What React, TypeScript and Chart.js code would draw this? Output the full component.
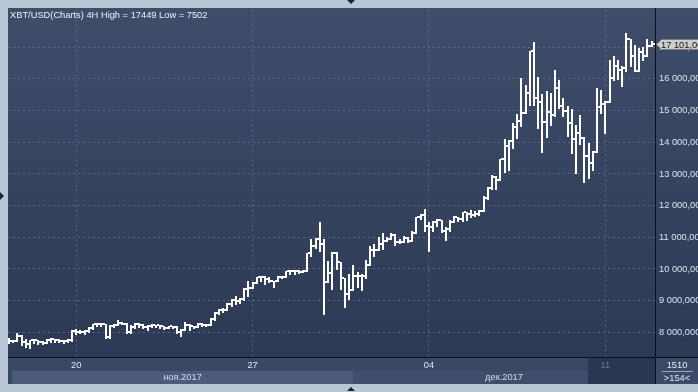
import React, { useEffect, useRef } from "react";
import { Chart, registerables } from "chart.js";

Chart.register(...registerables);

// 4H OHLC bars, XBT/USD, from 17 Nov 2017 08:00 (index 0) to 12 Dec 2017 20:00
const opens = [
  7730, 7730, 7740, 7880, 7700, 7640, 7760, 7750, 7700, 7660,
  7750, 7780, 7770, 7730, 7720, 7770, 8040, 8010, 8010, 8040,
  8150, 8250, 8250, 8250, 7850, 8190, 8220, 8300, 8270, 8000,
  8170, 8250, 8240, 8170, 8190, 8230, 8230, 8190, 8150, 8190,
  8180, 8010, 8080, 8240, 8200, 8180, 8270, 8220, 8240, 8410,
  8610, 8720, 8700, 8900, 9010, 8980, 9060, 9380, 9400, 9560,
  9740, 9740, 9690, 9610, 9610, 9760, 9760, 9930, 9930, 9950,
  9920, 9950, 10490, 10740, 10950, 10790, 9580, 9880, 10510, 10230,
  9720, 9220, 9340, 9790, 9790, 9790, 10140, 10600, 10600, 10790,
  10890, 10950, 11080, 10840, 10860, 10980, 10870, 11130, 11630, 11710,
  11370, 11310, 11470, 11540, 11190, 11260, 11470, 11630, 11580, 11790,
  11750, 11710, 11730, 11840, 12230, 12570, 12900, 12800, 13460, 13870,
  14030, 14470, 14670, 14910, 15540, 16870, 15400, 15265, 14640, 14970,
  14850, 15710, 15160, 15000, 14600, 14090, 14280, 14120, 13570, 13340,
  13700, 15120, 15220, 15280, 16030, 16400, 16290, 16360, 17260, 16730,
  16260, 16840, 16730, 17050,
];
const highs = [
  7830, 7760, 7980, 7900, 7800, 7770, 7780, 7760, 7730, 7780,
  7830, 7800, 7780, 7770, 7800, 8080, 8090, 8060, 8080, 8170,
  8270, 8290, 8290, 8270, 8230, 8270, 8380, 8320, 8290, 8220,
  8280, 8280, 8250, 8220, 8250, 8240, 8240, 8200, 8200, 8210,
  8190, 8120, 8320, 8250, 8210, 8280, 8280, 8250, 8450, 8640,
  8750, 8770, 8920, 9060, 9160, 9090, 9410, 9620, 9580, 9760,
  9770, 9770, 9760, 9630, 9790, 9790, 9950, 9970, 9980, 9960,
  9970, 10500, 10950, 10980, 11470, 10950, 10260, 10530, 10530, 10230,
  9720, 9850, 10140, 9900, 9830, 10290, 10740, 10790, 11000, 11120,
  11000, 11120, 11100, 10950, 11050, 11020, 11190, 11650, 11750, 11890,
  11470, 11520, 11580, 11540, 11310, 11540, 11680, 11650, 11790, 11790,
  11860, 11820, 11860, 12310, 12590, 12970, 12940, 13460, 14090, 14060,
  14620, 14900, 16030, 15820, 16870, 17180, 16060, 15510, 15610, 15560,
  16270, 15980, 15400, 15140, 15040, 14560, 14850, 14170, 13990, 13730,
  15720, 15660, 15300, 16610, 16730, 16610, 16420, 17449, 17260, 17080,
  16970, 17000, 17270, 17210,
];
const lows = [
  7650, 7700, 7740, 7590, 7540, 7502, 7650, 7640, 7620, 7650,
  7700, 7700, 7690, 7660, 7690, 7740, 7960, 7980, 7960, 8010,
  8110, 8210, 8200, 7830, 7830, 8170, 8220, 8250, 7990, 7990,
  8150, 8170, 8140, 8080, 8170, 8170, 8150, 8120, 8140, 8150,
  7980, 7880, 8080, 8080, 8150, 8170, 8190, 8190, 8230, 8400,
  8590, 8640, 8700, 8830, 8900, 8920, 9030, 9150, 9400, 9560,
  9620, 9510, 9580, 9430, 9610, 9710, 9760, 9850, 9850, 9870,
  9910, 9950, 10420, 10660, 10580, 8590, 9580, 9370, 10000, 9370,
  8800, 9060, 9340, 9430, 9340, 9720, 10140, 10420, 10600, 10630,
  10890, 10950, 10770, 10810, 10840, 10840, 10870, 11130, 11570, 11210,
  10580, 11210, 11370, 11160, 10930, 11190, 11470, 11500, 11520, 11540,
  11650, 11680, 11710, 11840, 12200, 12520, 12520, 12800, 13050, 13120,
  13810, 14120, 14510, 14910, 15190, 15190, 14460, 13690, 14180, 14540,
  14830, 15090, 14830, 14200, 13670, 13020, 13940, 12730, 12860, 13130,
  13700, 14910, 14300, 15270, 15980, 16000, 15770, 16240, 16400, 16240,
  16260, 16610, 16730, 17030,
];
const closes = [
  7730, 7740, 7880, 7700, 7640, 7760, 7750, 7700, 7660, 7750,
  7780, 7770, 7730, 7720, 7770, 8040, 8010, 8010, 8040, 8150,
  8250, 8250, 8250, 7850, 8190, 8220, 8300, 8270, 8000, 8170,
  8250, 8240, 8170, 8190, 8230, 8230, 8190, 8150, 8190, 8180,
  8010, 8080, 8240, 8200, 8180, 8270, 8220, 8240, 8410, 8610,
  8720, 8700, 8900, 9010, 8980, 9060, 9380, 9400, 9560, 9740,
  9740, 9690, 9610, 9610, 9760, 9760, 9930, 9930, 9950, 9920,
  9950, 10490, 10740, 10950, 10790, 9580, 9880, 10510, 10230, 9720,
  9220, 9340, 9790, 9790, 9790, 10140, 10600, 10600, 10790, 10890,
  10950, 11080, 10840, 10860, 10980, 10870, 11130, 11630, 11710, 11370,
  11310, 11470, 11540, 11190, 11260, 11470, 11630, 11580, 11790, 11750,
  11710, 11730, 11840, 12230, 12570, 12900, 12800, 13460, 13870, 14030,
  14470, 14670, 14910, 15540, 16870, 15400, 15265, 14640, 14970, 14850,
  15710, 15160, 15000, 14600, 14090, 14280, 14120, 13570, 13340, 13700,
  15120, 15220, 15280, 16030, 16400, 16290, 16360, 17260, 16730, 16260,
  16840, 16730, 17050, 17101,
];

// axis ticks
const yTicks = [8000, 9000, 10000, 11000, 12000, 13000, 14000, 15000, 16000, 17000];
const dayTickIdx = [16, 58, 100, 142];
const dayLabels = ["20", "27", "04", "11"];
const monthLabels = ["ноя.2017", "дек.2017"];
const monthStartIdx = [0, 82];
const titleText = "XBT/USD(Charts) 4H";
const cornerText = "1510";

const FONT_FAMILY = '"Liberation Sans", Arial, sans-serif';
const FS = 9.3;
const FONT = `${FS}px ${FONT_FAMILY}`;

const fmtNum = (v: number, dec: number) => {
  const [i, f] = v.toFixed(dec).split(".");
  return i.replace(/\B(?=(\d{3})+(?!\d))/g, " ") + "," + f;
};

const bgPlugin = {
  id: "bgPlugin",
  beforeDraw(chart: any) {
    const { ctx, width, height, scales } = chart;
    const x = scales.x;
    ctx.save();
    ctx.fillStyle = "#b9c6d5";
    ctx.fillRect(0, 0, width, height);
    const g = ctx.createLinearGradient(0, 8, 0, 384);
    g.addColorStop(0, "#3f4d6a");
    g.addColorStop(1, "#2b3853");
    ctx.fillStyle = g;
    ctx.fillRect(8, 8, width - 8, 376);
    // time axis strip
    ctx.fillStyle = "#3a4864";
    ctx.fillRect(8, 358, 647, 26);
    // month bands
    const b0 = 12;
    const b1 = Math.round(x.getPixelForValue(monthStartIdx[1] - 0.1));
    ctx.fillStyle = "#4b5b79";
    ctx.fillRect(b0, 371, b1 - b0, 13);
    ctx.fillStyle = "#3f4e6b";
    ctx.fillRect(b1, 371, 655 - b1, 13);
    // current box
    ctx.fillStyle = "#2a3752";
    ctx.fillRect(588, 358, 67, 26);
    // bottom-right box
    ctx.fillStyle = "#46567399";
    ctx.fillRect(656, 358, 42, 26);
    ctx.restore();
  },
};

const ohlcPlugin = {
  id: "ohlcPlugin",
  afterDatasetsDraw(chart: any) {
    const { ctx, chartArea: a, scales } = chart;
    const x = scales.x;
    const y = scales.y;
    ctx.save();
    ctx.beginPath();
    ctx.rect(a.left, a.top, a.right - a.left, a.bottom - a.top);
    ctx.clip();
    ctx.fillStyle = "#ffffff";
    for (let i = 0; i < opens.length; i++) {
      const px = Math.round(x.getPixelForValue(i));
      const yh = Math.round(y.getPixelForValue(highs[i]));
      const yl = Math.round(y.getPixelForValue(lows[i]));
      const yo = Math.round(y.getPixelForValue(opens[i]));
      const yc = Math.round(y.getPixelForValue(closes[i]));
      ctx.fillRect(px - 1, yh, 2, Math.max(2, yl - yh + 1));
      ctx.fillRect(px - 3, yo - 1, 2, 2);
      ctx.fillRect(px + 1, yc - 1, 2, 2);
    }
    ctx.restore();
  },
  afterDraw(chart: any) {
    const { ctx, width, scales } = chart;
    const x = scales.x;
    const y = scales.y;
    ctx.save();
    // separators
    ctx.fillStyle = "#0a0e16";
    ctx.fillRect(655, 8, 1, 376);
    ctx.fillRect(8, 357, width - 8, 1);
    // title
    ctx.font = FONT;
    ctx.textBaseline = "middle";
    ctx.textAlign = "left";
    ctx.fillStyle = "#eef2f8";
    const hi = Math.max(...highs);
    const lo = Math.min(...lows);
    ctx.fillText(`${titleText} High = ${hi} Low = ${lo}`, 10, 15);
    // month labels
    ctx.textAlign = "center";
    ctx.fillStyle = "#d3ddeb";
    const b1 = Math.round(x.getPixelForValue(monthStartIdx[1] - 0.1));
    ctx.fillText(monthLabels[0], (12 + b1) / 2, 377.5);
    ctx.fillText(monthLabels[1], (b1 + 655) / 2, 377.5);
    // bottom-right box
    ctx.fillStyle = "#e3e9f2";
    ctx.fillText(cornerText, 677, 365);
    ctx.fillText(`>${opens.length}<`, 677, 378.5);
    ctx.fillStyle = "#9aa7bb";
    ctx.fillRect(662, 371, 31, 1);
    // last price label
    const last = closes[closes.length - 1];
    const yl = Math.round(y.getPixelForValue(last)) + 0.5;
    ctx.beginPath();
    ctx.moveTo(656.5, yl);
    ctx.lineTo(661.5, yl - 5);
    ctx.lineTo(700, yl - 5);
    ctx.lineTo(700, yl + 5);
    ctx.lineTo(661.5, yl + 5);
    ctx.closePath();
    ctx.fillStyle = "#cdcdcd";
    ctx.fill();
    ctx.strokeStyle = "#7c7c7c";
    ctx.lineWidth = 1;
    ctx.stroke();
    ctx.fillStyle = "#141414";
    ctx.textAlign = "left";
    ctx.fillText(fmtNum(last, 4), 661, yl + 0.5);
    // frame arrows
    ctx.fillStyle = "#1c2433";
    ctx.beginPath();
    ctx.moveTo(347, 0); ctx.lineTo(355, 0); ctx.lineTo(351, 4); ctx.closePath(); ctx.fill();
    ctx.beginPath();
    ctx.moveTo(347, 391); ctx.lineTo(355, 391); ctx.lineTo(351, 387); ctx.closePath(); ctx.fill();
    ctx.beginPath();
    ctx.moveTo(0, 192); ctx.lineTo(0, 200); ctx.lineTo(4, 196); ctx.closePath(); ctx.fill();
    ctx.restore();
  },
};

export default function App() {
  const ref = useRef<HTMLCanvasElement>(null);
  useEffect(() => {
    if (!ref.current) return;
    const gridColor = "rgba(112,130,162,0.6)";
    const chart = new Chart(ref.current, {
      type: "line",
      data: {
        datasets: [
          {
            data: closes.map((c, i) => ({ x: i, y: c })),
            showLine: false,
            pointRadius: 0,
            borderWidth: 0,
          },
        ],
      },
      options: {
        responsive: false,
        animation: false,
        devicePixelRatio: 1,
        events: [],
        layout: { padding: { left: 8, top: 8, right: 0, bottom: 8 } },
        plugins: { legend: { display: false }, tooltip: { enabled: false }, title: { display: false } },
        scales: {
          x: {
            type: "linear",
            min: -0.238,
            max: 153.81,
            offset: false,
            afterBuildTicks: (s: any) => {
              s.ticks = dayTickIdx.map((v) => ({ value: v }));
            },
            afterFit: (s: any) => {
              s.height = 27;
            },
            grid: { color: gridColor, drawTicks: false, lineWidth: 1 },
            border: { display: false, dash: [2, 3] },
            ticks: {
              autoSkip: false,
              maxRotation: 0,
              minRotation: 0,
              padding: 3,
              color: (c: any) => (c.index === 3 ? "#66769a" : "#e0e7f2"),
              font: { family: FONT_FAMILY, size: FS },
              callback: (_v: any, idx: number) => dayLabels[idx],
            },
          },
          y: {
            type: "linear",
            position: "right",
            min: 7221,
            max: 18189,
            afterBuildTicks: (s: any) => {
              s.ticks = yTicks.map((v) => ({ value: v }));
            },
            afterFit: (s: any) => {
              s.width = 43;
            },
            grid: { color: gridColor, drawTicks: false, lineWidth: 1 },
            border: { display: false, dash: [2, 3] },
            ticks: {
              padding: 4,
              color: "#d9e3f1",
              font: { family: FONT_FAMILY, size: FS },
              callback: (v: any) => fmtNum(Number(v), 4),
            },
          },
        },
      },
      plugins: [bgPlugin, ohlcPlugin],
    } as any);
    return () => chart.destroy();
  }, []);
  return (
    <div style={{ position: "fixed", left: 0, top: 0, width: 698, height: 392, overflow: "hidden" }}>
      <canvas ref={ref} width={698} height={392} style={{ display: "block", width: 698, height: 392 }} />
    </div>
  );
}
